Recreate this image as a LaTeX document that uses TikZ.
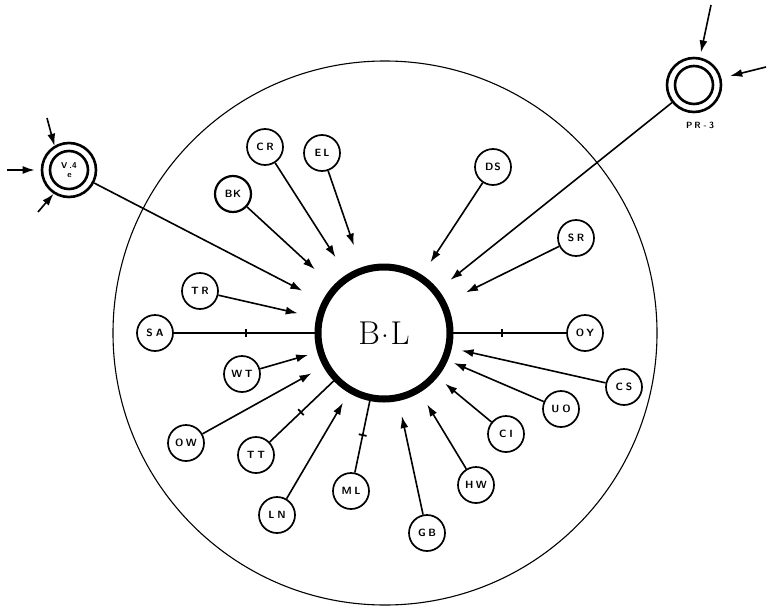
\documentclass[tikz,border=0pt]{standalone}
\usetikzlibrary{arrows.meta}
\begin{document}
\begin{tikzpicture}[x=1pt,y=-1pt,
  nd/.style={circle, draw, line width=1.7pt, minimum size=36pt, inner sep=0pt,
    font=\sffamily\bfseries\fontsize{10.5}{10.5}\selectfont},
  dbl/.style={circle, draw, line width=2.6pt, minimum size=54pt, inner sep=0pt},
  con/.style={line width=1.6pt},
  arr/.style={con, -{Latex[length=12pt,width=8pt]}},
  tickmark/.style={sloped, fill=black, draw=none, inner sep=0pt, minimum width=1.8pt, minimum height=8pt}
]
\useasboundingbox (0,0) rectangle (770,610);
% outer boundary
\draw[line width=1.1pt] (385,333) circle[radius=272];
% centre
\node[circle, draw, line width=7pt, minimum size=132pt, inner sep=0pt, outer sep=0pt,
  font=\fontsize{33}{33}\selectfont] (BL) at (384,333) {B\kern1pt\raisebox{0.22em}{.}\kern1.5pt L};
% satellites
\node[nd] (CR) at (265,147) {C\hspace{2.5pt}R};
\node[nd] (EL) at (322,153) {E\hspace{2pt}L};
\node[nd, line width=2.2pt] (BK) at (233,194) {B\hspace{0.5pt}K};
\node[nd] (DS) at (493,167) {D\hspace{1pt}S};
\node[nd] (SR) at (576,238) {S\hspace{2.5pt}R};
\node[nd] (TR) at (200,291) {T\hspace{2.5pt}R};
\node[nd] (SA) at (155,333) {S\hspace{3pt}A};
\node[nd] (WT) at (242,374) {W\hspace{2.5pt}T};
\node[nd] (OW) at (186,443) {O\hspace{2.5pt}W};
\node[nd] (TT) at (256,455) {T\hspace{3pt}T};
\node[nd] (LN) at (277,515) {L\hspace{3pt}N};
\node[nd] (ML) at (351,491) {M\hspace{2.5pt}L};
\node[nd] (GB) at (427,533) {G\hspace{2.5pt}B};
\node[nd] (HW) at (476,485) {H\hspace{2.5pt}W};
\node[nd] (CI) at (506,434) {C\hspace{3pt}I};
\node[nd] (UO) at (561,409) {U\hspace{3pt}O};
\node[nd] (CS) at (624,387) {C\hspace{3pt}S};
\node[nd] (OY) at (585,333) {O\hspace{2pt}Y};
% double-ringed outer nodes
\node[dbl] (VE) at (69,170) {};
\draw[line width=2.6pt] (VE.center) circle[radius=19];
\node[font=\sffamily\bfseries\fontsize{8.5}{8.5}\selectfont, align=center, inner sep=0pt] (VEt) at (VE.center) {V\hspace{2pt}.4\\[1pt]\hspace{1pt}e};
\node[dbl] (PR) at (694,85) {};
\draw[line width=2.6pt] (PR.center) circle[radius=19];
\node[font=\sffamily\bfseries\fontsize{9}{9}\selectfont, inner sep=0pt] (PRl) at (700,125) {P\hspace{2pt}R\hspace{3pt}-\hspace{2pt}3};
% free arrow ends
\coordinate (v1) at (47,118);
\coordinate (v2) at (7,170);
\coordinate (v3) at (38,212);
\coordinate (p1) at (711,5);
\coordinate (p2) at (766,67);
\draw[arr] (v1) -- (VE.121);
\draw[arr, shorten >=6pt] (v2) -- (VE);
\draw[arr] (v3) -- (VE.237);
\draw[arr, shorten >=5pt] (p1) -- (PR);
\draw[arr, shorten >=9pt] (p2) -- (PR);
% arrows into centre
\draw[arr, shorten >=26pt] (VE) -- (BL);
\draw[arr, shorten >=19pt] (PR) -- (BL);
\draw[arr, shorten >=24pt] (CR) -- (BL);
\draw[arr, shorten >=26.5pt] (EL) -- (BL);
\draw[arr, shorten >=28pt] (BK) -- (BL);
\draw[arr, shorten >=18.5pt] (DS) -- (BL);
\draw[arr, shorten >=25.5pt] (SR) -- (BL);
\draw[arr, shorten >=22.5pt] (TR) -- (BL);
\draw[arr, shorten >=13pt] (WT) -- (BL);
\draw[arr, shorten >=17pt] (OW) -- (BL);
\draw[arr, shorten >=15pt] (LN) -- (BL);
\draw[arr, shorten >=19pt] (GB) -- (BL);
\draw[arr, shorten >=17.5pt] (HW) -- (BL);
\draw[arr, shorten >=13.5pt] (CI) -- (BL);
\draw[arr, shorten >=10pt] (UO) -- (BL);
\draw[arr, shorten >=13.5pt] (CS) -- (BL);
% plain links with a cross-bar
\draw[con] (SA) -- (BL) node[tickmark, pos=0.5] {};
\draw[con] (OY) -- (BL) node[tickmark, pos=0.55] {};
\draw[con] (TT) -- (BL) node[tickmark, pos=0.47] {};
\draw[con] (ML) -- (BL) node[tickmark, pos=0.5] {};
\end{tikzpicture}
\end{document}
